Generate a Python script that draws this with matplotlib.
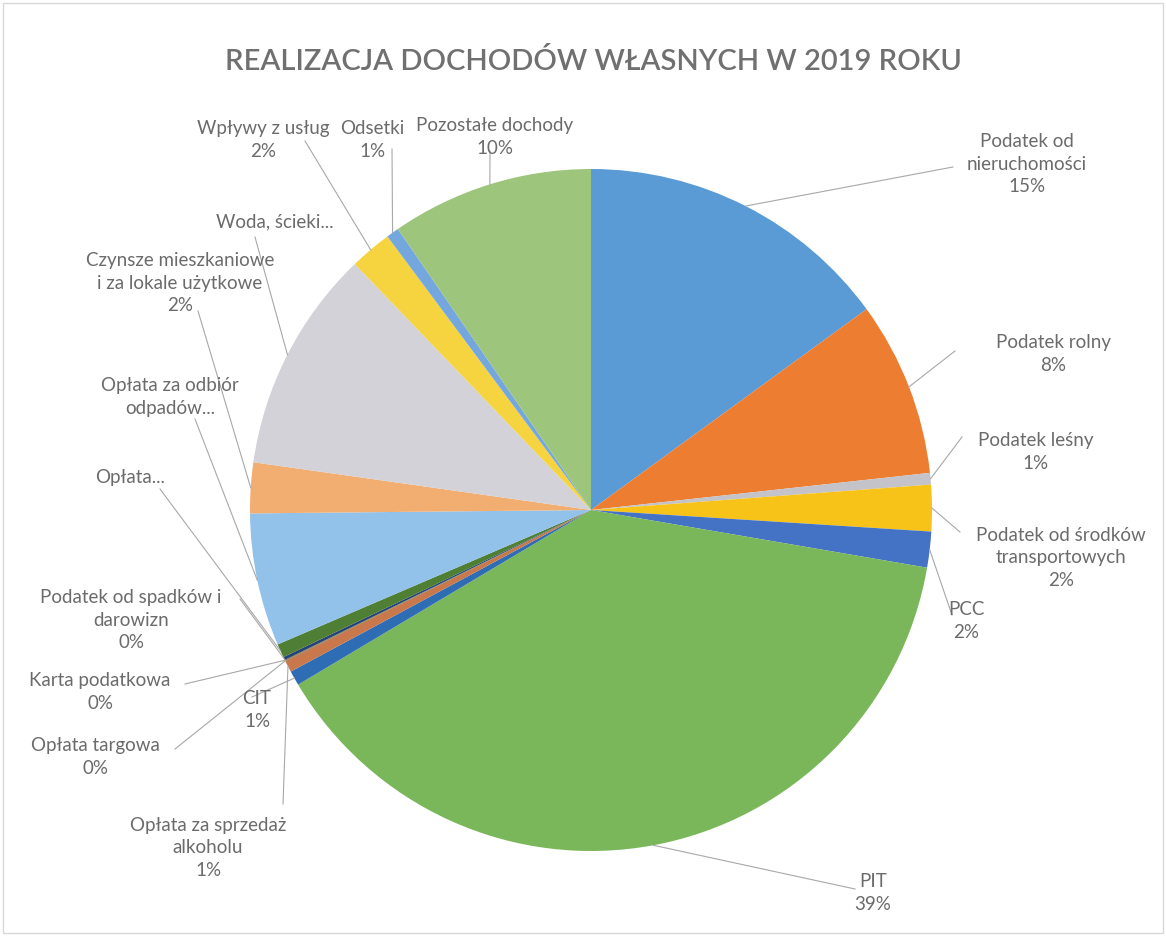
import numpy as np
import matplotlib.pyplot as plt
from matplotlib.patches import Rectangle

W, H = 1166, 937

# slices, clockwise from 12 o'clock (values in %)
categories = ["Podatek od\nnieruchomości", "Podatek rolny", "Podatek leśny",
              "Podatek od środków\ntransportowych", "PCC", "PIT", "CIT",
              "Opłata za sprzedaż\nalkoholu", "Opłata targowa", "Karta podatkowa",
              "Podatek od spadków i\ndarowizn", "Opłata...",
              "Opłata za odbiór\nodpadów...",
              "Czynsze mieszkaniowe\ni za lokale użytkowe", "Woda, ścieki...",
              "Wpływy z usług", "Odsetki", "Pozostałe dochody"]
values = [15.0, 8.3, 0.55, 2.2, 1.7, 38.8, 0.7, 0.55, 0.03, 0.03, 0.15, 0.65,
          6.3, 2.4, 10.6, 2.0, 0.6, 9.6]
show_pct = [True, True, True, True, True, True, True, True, True, True, True,
            False, False, True, False, True, True, True]
colors = ["#5b9bd5", "#ed7d31", "#c3c3c9", "#f7c318", "#4472c4", "#7ab65a",
          "#2e6db4", "#c8784a", "#636363", "#997300", "#264478", "#4f7f35",
          "#92c1ea", "#f2ad70", "#d2d2d8", "#f5d43f", "#74a7dd", "#9dc57b"]

# label centres and leader line ends, image pixels (y down)
label_xy = [(1027, 164), (1053, 354), (1036, 452), (1061, 558), (966, 621),
            (873, 893), (257, 710), (208, 848), (95, 757), (100, 692),
            (131, 620), (130, 478), (170, 397), (180, 283), (275, 222),
            (263, 140), (372, 140), (495, 137)]
leader_xy = [(953, 168), (955, 352), (962, 438), (960, 533), (952, 616),
             (855, 890), (252, 698), (283, 805), (175, 750), (185, 685),
             (240, 600), (160, 490), (195, 420), (198, 312), (255, 238),
             (305, 142), (392, 150), (490, 152)]

plt.rcParams['font.family'] = ['Lato', 'DejaVu Sans']
fig = plt.figure(figsize=(W / 100, H / 100), dpi=100)
ax = fig.add_axes([0, 0, 1, 1])

cx, cy, r = 591, H - 511, 341
wedges, _ = ax.pie(values, colors=colors, startangle=90, counterclock=False,
                   center=(cx, cy), radius=r, frame=True,
                   wedgeprops=dict(linewidth=0))
ax.set_xlim(0, W)
ax.set_ylim(0, H)
ax.set_aspect('equal')
ax.axis('off')

total = sum(values)
txt_color = '#6b6b6b'
for i, w in enumerate(wedges):
    mid = np.deg2rad((w.theta1 + w.theta2) / 2)
    px = cx + r * np.cos(mid)
    py = cy + r * np.sin(mid)
    lx, ly = leader_xy[i]
    ax.plot([px, lx], [py, H - ly], color='#a8a8a8', lw=0.8, zorder=1)
    txt = categories[i]
    if show_pct[i]:
        txt += f"\n{round(values[i] / total * 100):.0f}%"
    tx, ty = label_xy[i]
    ax.text(tx, H - ty, txt, ha='center', va='center', multialignment='center',
            fontsize=13.5, color=txt_color, linespacing=1.4, zorder=3)

fig.text(593 / W, 1 - 62 / H, "REALIZACJA DOCHODÓW WŁASNYCH W 2019 ROKU",
         ha='center', va='center', fontsize=21, color='#707070', weight='semibold')

fig.patches.append(Rectangle((0.003, 0.003), 0.994, 0.993, transform=fig.transFigure,
                             fill=False, edgecolor='#d8d8d8', lw=1))

fig.savefig('out.png', dpi=100)
